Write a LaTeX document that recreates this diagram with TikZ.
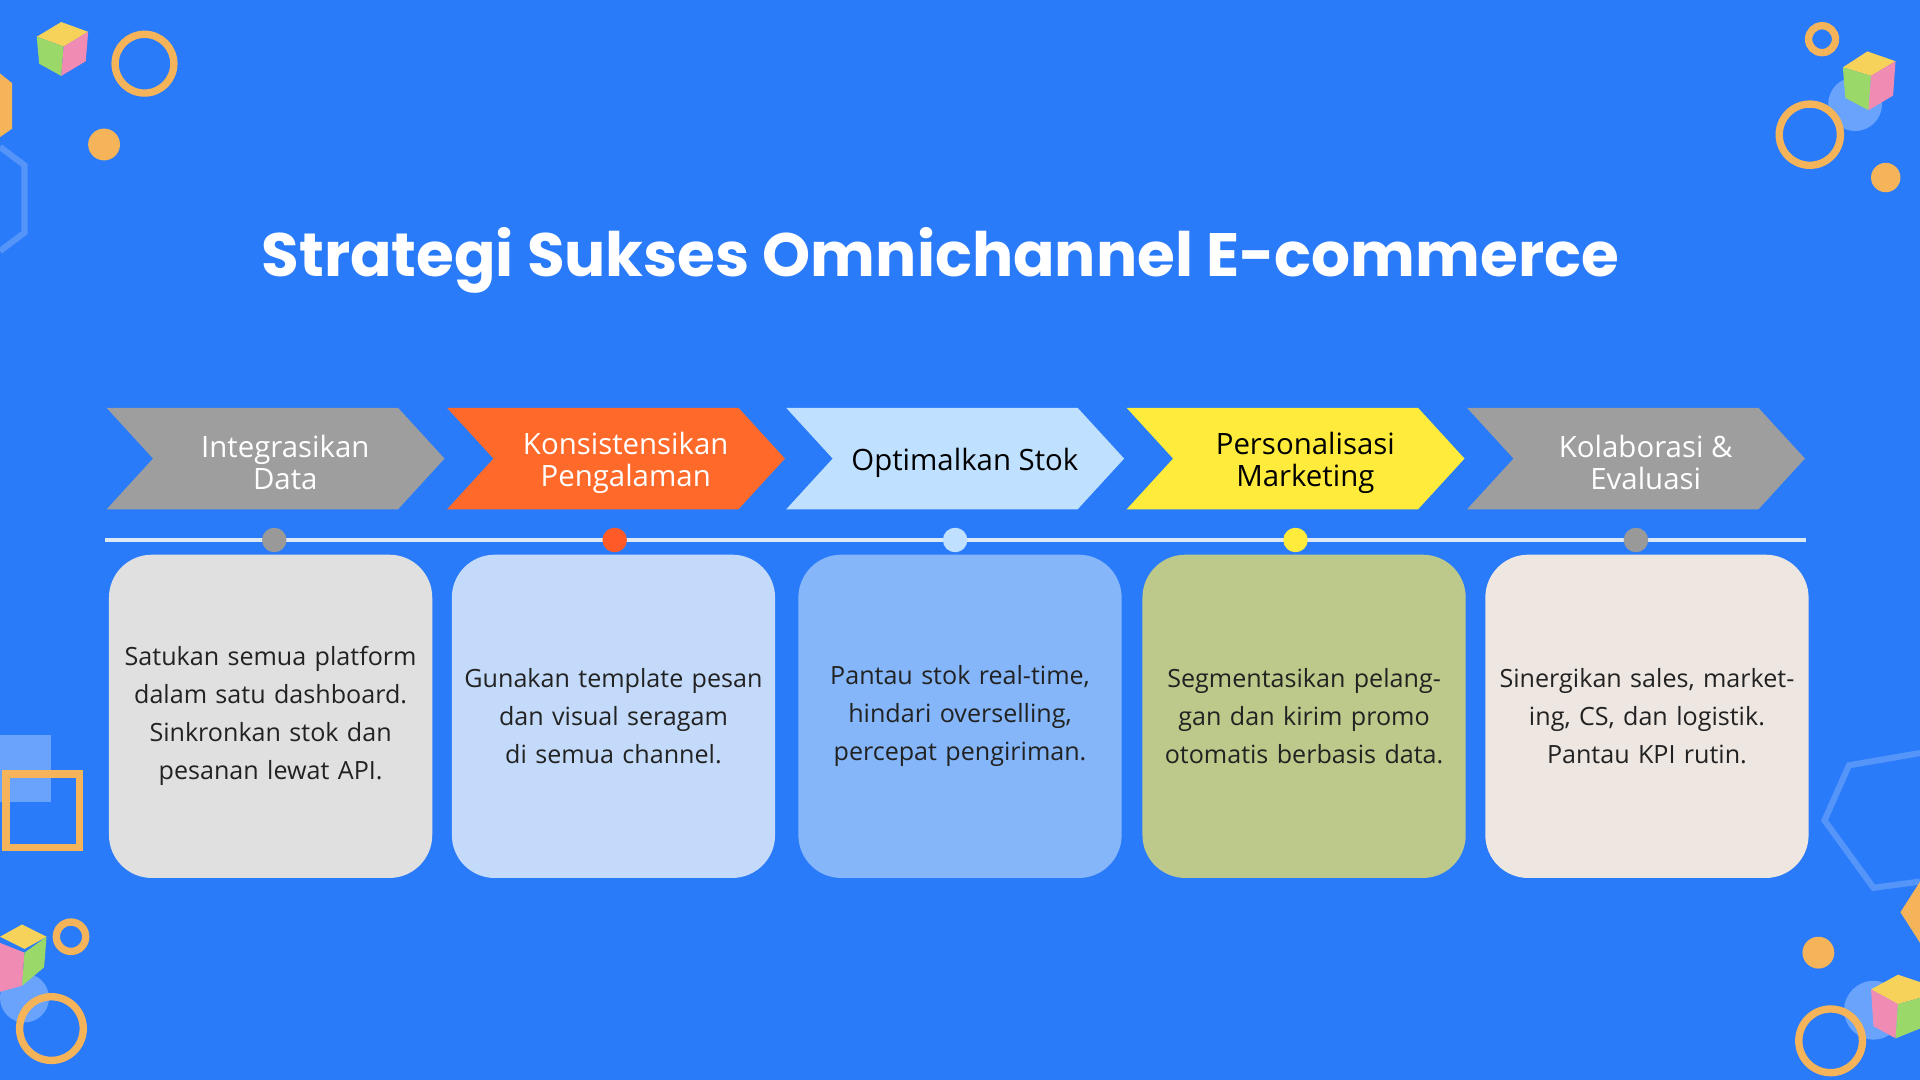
\documentclass[tikz,border=0pt]{standalone}
\usepackage{fontspec}
\setmainfont{Open Sans}
\newfontfamily\titlefont{Poppins}
\usetikzlibrary{shapes.geometric}
\definecolor{bg}{HTML}{2A7BF9}
\definecolor{gr}{HTML}{9E9E9E}
\definecolor{og}{HTML}{FF6A2B}
\definecolor{lb}{HTML}{BFE0FF}
\definecolor{yl}{HTML}{FFEB3B}
\definecolor{dec}{HTML}{F5B45A}
\definecolor{cA}{HTML}{E0E0E0}
\definecolor{cB}{HTML}{C4DAFA}
\definecolor{cC}{HTML}{84B6F9}
\definecolor{cD}{HTML}{BCC98A}
\definecolor{cE}{HTML}{EEE6E0}
\definecolor{txt}{HTML}{222222}
\definecolor{ln}{HTML}{DDE8F5}
\definecolor{rd}{HTML}{FF5A28}
\definecolor{cy}{HTML}{F7D25A}
\definecolor{cg}{HTML}{9BD86A}
\definecolor{cp}{HTML}{F08CB4}
\begin{document}
\begin{tikzpicture}[x=1pt,y=-1pt,
  cardtxt/.style={text width=250pt,align=center,font=\fontsize{20.5}{31}\selectfont,text=txt},
  chevtxt/.style={align=center,font=\fontsize{24}{26}\selectfont},
  ring/.style={draw=dec,line width=6pt},
  dot/.style={circle,inner sep=0pt,minimum size=20pt}]
\fill[bg] (0,0) rectangle (1568,882);
\useasboundingbox (0,0) rectangle (1568,882);
% decorations
\fill[cy] (30,30) -- (50,18) -- (72,26) -- (52,38) -- cycle;
\fill[cg] (30,30) -- (52,38) -- (50,62) -- (32,52) -- cycle;
\fill[cp] (52,38) -- (72,26) -- (70,50) -- (50,62) -- cycle;
\draw[ring] (118,52) circle (24);
\fill[dec] (85,118) circle (13);
\draw[bg!80!white,line width=5pt] (0,120) -- (20,135) -- (20,190) -- (0,205);
\fill[dec] (0,60) -- (10,68) -- (10,105) -- (0,112) -- cycle;
\draw[ring] (1488,32) circle (11);
\fill[bg!70!white] (1515,85) circle (22);
\draw[ring] (1478,110) circle (25);
\fill[cy] (1505,55) -- (1525,42) -- (1548,50) -- (1528,62) -- cycle;
\fill[cg] (1505,55) -- (1528,62) -- (1526,90) -- (1507,80) -- cycle;
\fill[cp] (1528,62) -- (1548,50) -- (1546,78) -- (1526,90) -- cycle;
\fill[dec] (1540,145) circle (12);
\fill[bg!70!white] (0,600) rectangle (42,655);
\draw[ring] (5,632) rectangle (65,692);
\draw[ring] (58,765) circle (12);
\fill[bg!70!white] (20,815) circle (20);
\fill[cy] (0,765) -- (18,755) -- (38,765) -- (20,775) -- cycle;
\fill[cp] (0,770) -- (20,778) -- (18,805) -- (0,810) -- cycle;
\fill[cg] (20,778) -- (38,765) -- (36,790) -- (18,805) -- cycle;
\draw[ring] (42,840) circle (26);
\fill[dec] (1485,778) circle (13);
\draw[bg!80!white,line width=5pt] (1568,615) -- (1510,625) -- (1490,670) -- (1530,725) -- (1568,720);
\fill[dec] (1568,720) -- (1552,745) -- (1568,770) -- cycle;
\fill[bg!70!white] (1530,825) circle (24);
\draw[ring] (1495,850) circle (26);
\fill[cy] (1528,808) -- (1550,796) -- (1568,802) -- (1568,815) -- (1550,820) -- cycle;
\fill[cp] (1528,808) -- (1550,820) -- (1548,848) -- (1530,838) -- cycle;
\fill[cg] (1550,820) -- (1568,815) -- (1568,840) -- (1548,848) -- cycle;
% title
\node[text=white,font=\titlefont\bfseries\fontsize{50}{56}\selectfont] (title) at (768,213) {Strategi Sukses Omnichannel E-commerce};
% chevrons
\foreach \i/\x/\c/\t/\l in {1/87/gr/white/{Integrasikan\\Data},2/365/og/white/{Konsistensikan\\Pengalaman},3/642/lb/black/{Optimalkan Stok},4/920/yl/black/{Personalisasi\\Marketing},5/1198/gr/white/{Kolaborasi \&\\Evaluasi}}{
  \fill[\c] (\x,333) -- (\x+238,333) -- (\x+276,374.5) -- (\x+238,416) -- (\x,416) -- (\x+38,374.5) -- cycle;
  \node[chevtxt,text=\t] (ch\i) at (\x+146,378) {\l};
}
% line
\coordinate (la) at (86,441); \coordinate (lb) at (1475,441);
\draw[ln,line width=3pt] (la) -- (lb);
\node[dot,fill=gray!80] (d1) at (224,441) {};
\node[dot,fill=rd] (d2) at (502,441) {};
\node[dot,fill=lb] (d3) at (780,441) {};
\node[dot,fill=yl] (d4) at (1058,441) {};
\node[dot,fill=gray!80] (d5) at (1336,441) {};
% cards
\foreach \i/\x/\c/\l in {1/89/cA/{Satukan semua platform dalam satu dashboard. Sinkronkan stok dan pesanan lewat API.},2/369/cB/{Gunakan template pesan dan visual seragam di semua channel.},3/652/cC/{Pantau stok real-time, hindari overselling, percepat pengiriman.},4/933/cD/{Segmentasikan pelanggan dan kirim promo otomatis berbasis data.},5/1213/cE/{Sinergikan sales, marketing, CS, dan logistik. Pantau KPI rutin.}}{
  \fill[\c,rounded corners=35pt] (\x,453) rectangle (\x+264,717);
  \node[cardtxt] (c\i) at (\x+132,585) {\l};
}
\end{tikzpicture}
\end{document}
